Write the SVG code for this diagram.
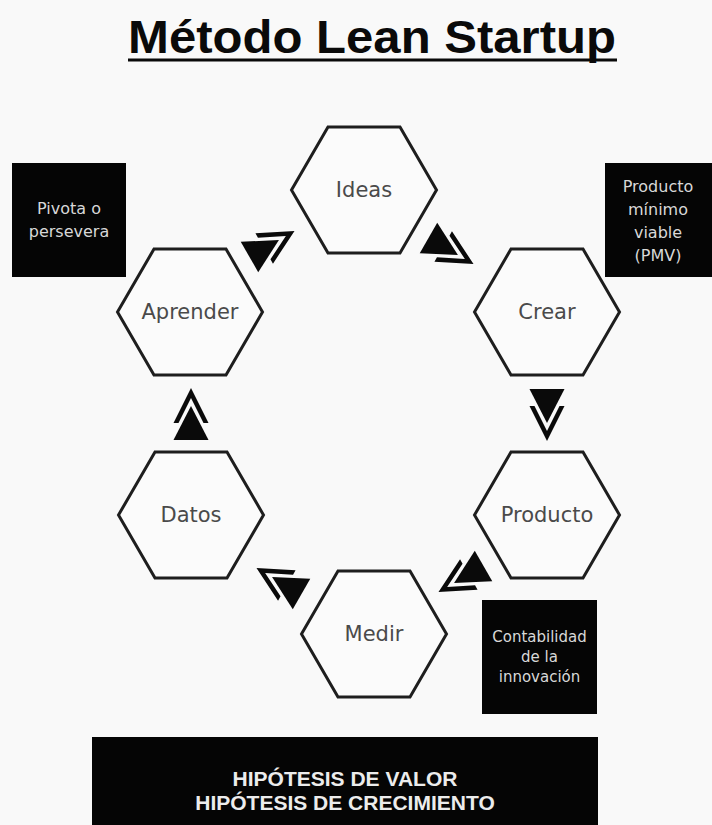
<svg xmlns="http://www.w3.org/2000/svg" xmlns:xlink="http://www.w3.org/1999/xlink" width="712" height="825" viewBox="0 0 712 825">
<style>
.hex{fill:#fbfbfb;stroke:#1e1e1e;stroke-width:3;stroke-linejoin:miter}
.lbl{font-family:"DejaVu Sans",sans-serif;font-size:21px;fill:#4a4a4a;text-anchor:middle}
.box{fill:#050505}
.btxt{font-family:"DejaVu Sans",sans-serif;font-size:16px;fill:#d8d8d8;text-anchor:middle}
.btxt2{font-family:"DejaVu Sans",sans-serif;font-size:15px;fill:#d8d8d8;text-anchor:middle}
.big{font-family:"Liberation Sans",Arial,sans-serif;font-weight:bold;font-size:21px;fill:#ececec;text-anchor:middle}
.title{font-family:"Liberation Sans",Arial,sans-serif;font-weight:bold;font-size:46px;fill:#0a0a0a}
.arr{fill:#0a0a0a}
</style>
<defs>
<polygon id="hexshape" points="-72.5,0 -36,-63 36,-63 72.5,0 36,63 -36,63"/>
<g id="ff">
<polygon class="arr" points="-26,-17.5 -26,17.5 8,0"/>
<polygon class="arr" points="-9,-17.5 26,0 -9,17.5 -9,12.5 16,0 -9,-12.5"/>
</g>
</defs>
<rect x="0" y="0" width="712" height="825" fill="#f9f9f9"/>

<g id="title">
<text class="title" x="128" y="53" textLength="488" lengthAdjust="spacingAndGlyphs">Método Lean Startup</text>
<line x1="128" y1="60" x2="617" y2="60" stroke="#0a0a0a" stroke-width="3"/>
</g>

<g id="connectors">
<use xlink:href="#ff" transform="translate(272,244) rotate(-30)"/>
<use xlink:href="#ff" transform="translate(451,251) rotate(30)"/>
<use xlink:href="#ff" transform="translate(547,415) rotate(90)"/>
<use xlink:href="#ff" transform="translate(461,579) rotate(150)"/>
<use xlink:href="#ff" transform="translate(279,581) rotate(-150)"/>
<use xlink:href="#ff" transform="translate(191,414) rotate(-90)"/>
</g>

<g id="ideas">
<use xlink:href="#hexshape" class="hex" transform="translate(364,190)"/>
<text class="lbl" x="364" y="197">Ideas</text>
</g>
<g id="crear">
<use xlink:href="#hexshape" class="hex" transform="translate(547,312)"/>
<text class="lbl" x="547" y="319">Crear</text>
</g>
<g id="producto">
<use xlink:href="#hexshape" class="hex" transform="translate(547,515)"/>
<text class="lbl" x="547" y="522">Producto</text>
</g>
<g id="medir">
<use xlink:href="#hexshape" class="hex" transform="translate(374,634)"/>
<text class="lbl" x="374" y="641">Medir</text>
</g>
<g id="datos">
<use xlink:href="#hexshape" class="hex" transform="translate(191,515)"/>
<text class="lbl" x="191" y="522">Datos</text>
</g>
<g id="aprender">
<use xlink:href="#hexshape" class="hex" transform="translate(190,312)"/>
<text class="lbl" x="190" y="319">Aprender</text>
</g>

<g id="pivota">
<rect class="box" x="12" y="163" width="114" height="114"/>
<text class="btxt" x="69" y="214">Pivota o</text>
<text class="btxt" x="69" y="237">persevera</text>
</g>
<g id="pmv">
<rect class="box" x="605" y="163" width="107" height="114"/>
<text class="btxt" x="658" y="192">Producto</text>
<text class="btxt" x="658" y="215">mínimo</text>
<text class="btxt" x="658" y="238">viable</text>
<text class="btxt" x="658" y="261">(PMV)</text>
</g>
<g id="contabilidad">
<rect class="box" x="482" y="600" width="115" height="114"/>
<text class="btxt2" x="539.5" y="642">Contabilidad</text>
<text class="btxt2" x="539.5" y="662">de la</text>
<text class="btxt2" x="539.5" y="682">innovación</text>
</g>
<g id="hipotesis">
<rect class="box" x="92" y="737" width="506" height="88"/>
<text class="big" x="345" y="786">HIPÓTESIS DE VALOR</text>
<text class="big" x="345" y="810">HIPÓTESIS DE CRECIMIENTO</text>
</g>
</svg>
